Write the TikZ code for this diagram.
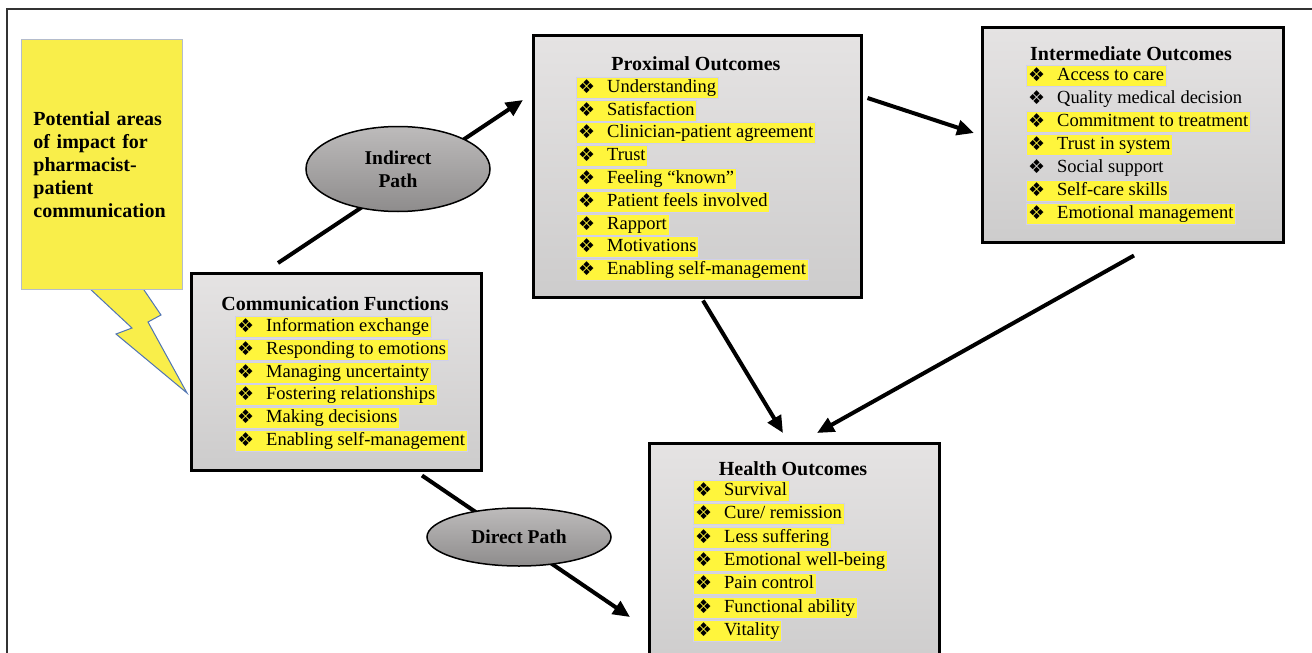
\documentclass[tikz,border=0pt]{standalone}
\usepackage{fontspec}
\setmainfont{Liberation Serif}
\newfontfamily\symfont{DejaVu Sans}
\usetikzlibrary{arrows.meta,shapes.geometric,shadings}
\definecolor{hl}{HTML}{FFF53C}
\definecolor{hlb}{HTML}{D0D0EC}
\definecolor{cy}{HTML}{F9EE4A}
\definecolor{cyb}{HTML}{4F74B5}
\definecolor{cyr}{HTML}{B4BCCC}
\definecolor{boxtop}{HTML}{E5E3E3}
\definecolor{boxbot}{HTML}{CDCCCC}
\definecolor{elltop}{HTML}{BDBBBB}
\definecolor{ellbot}{HTML}{8E8C8C}
\newcommand\mybul{{\symfont\fontsize{19}{19}\selectfont\raisebox{-0.5pt}{❖}}}
\newcommand\myitemfont{\fontsize{18.5}{23}\selectfont}
\newcommand\mytitlefont{\fontsize{20}{23}\selectfont\bfseries}
\newcommand\itm[1]{\makebox[29pt][l]{\mybul}#1}
\tikzset{
  panel/.style={draw=black, line width=2.5pt, top color=boxtop, bottom color=boxbot,
    anchor=north west, inner sep=0pt, rectangle},
  hlitem/.style={anchor=north west, fill=hl, draw=hlb, line width=0.4pt, inner xsep=2pt,
    inner ysep=0.5pt, text height=15pt, text depth=5pt, font=\myitemfont},
  plainitem/.style={hlitem, fill=none, draw=none},
  ptitle/.style={anchor=base, font=\mytitlefont, inner sep=0pt},
  pathell/.style={ellipse, draw=black, line width=1.5pt, top color=elltop, bottom color=ellbot,
    inner sep=0pt, align=center, font=\fontsize{19.5}{23}\selectfont\bfseries},
  arr/.style={line width=4pt, -{Triangle[length=17pt,width=15pt]}},
}
\begin{document}
\begin{tikzpicture}[x=1pt,y=-1pt]
\useasboundingbox (0,0) rectangle (1312,653);
\clip (0,0) rectangle (1312,653);
\fill[white] (0,0) rectangle (1312,653);
% outer frame (top and left edges visible)
\draw[line width=2pt, draw=black!80] (7,653) -- (7,9) -- (1312,9);

% callout pointer
\draw[fill=cy, draw=cyb, line width=1pt, line join=miter]
  (88,287) -- (132,328) -- (116,334) -- (187,393) -- (148,322) -- (161,315) -- (142,287);
\node[rectangle, fill=cy, draw=cyr, line width=0.8pt, anchor=north west,
  minimum width=161pt, minimum height=250pt, text width=137pt, inner xsep=12pt,
  align=left, font=\fontsize{20}{23}\selectfont\bfseries] (callout) at (21,39)
  {Potential areas\\of impact for\\pharmacist-\\patient\\communication};

% panels
\node[panel, minimum width=290pt, minimum height=197pt] (comm) at (190,272) {};
\node[panel, minimum width=328pt, minimum height=262pt] (prox) at (532,34) {};
\node[panel, minimum width=301pt, minimum height=215pt] (inter) at (981,26) {};
\node[panel, minimum width=290pt, minimum height=230pt] (health) at (648,442) {};

% titles
\node[ptitle] (commt) at (335,310) {Communication Functions};
\node[ptitle] (proxt) at (696,70) {Proximal Outcomes};
\node[ptitle] (intert) at (1131,60) {Intermediate Outcomes};
\node[ptitle] (healtht) at (793,475) {Health Outcomes};

% communication items
\node[hlitem] (c1) at (235,316) {\itm{Information exchange}};
\node[hlitem] (c2) at (235,339) {\itm{Responding to emotions}};
\node[hlitem] (c3) at (235,362) {\itm{Managing uncertainty}};
\node[hlitem] (c4) at (235,384) {\itm{Fostering relationships}};
\node[hlitem] (c5) at (235,407) {\itm{Making decisions}};
\node[hlitem] (c6) at (235,430) {\itm{Enabling self-management}};

% proximal items
\node[hlitem] (p1) at (576,77) {\itm{Understanding}};
\node[hlitem] (p2) at (576,100) {\itm{Satisfaction}};
\node[hlitem] (p3) at (576,122) {\itm{Clinician-patient agreement}};
\node[hlitem] (p4) at (576,145) {\itm{Trust}};
\node[hlitem] (p5) at (576,168) {\itm{Feeling “known”}};
\node[hlitem] (p6) at (576,191) {\itm{Patient feels involved}};
\node[hlitem] (p7) at (576,214) {\itm{Rapport}};
\node[hlitem] (p8) at (576,236) {\itm{Motivations}};
\node[hlitem] (p9) at (576,259) {\itm{Enabling self-management}};

% intermediate items
\node[hlitem] (i1) at (1026,65) {\itm{Access to care}};
\node[plainitem] (i2) at (1026,88) {\itm{Quality medical decision}};
\node[hlitem] (i3) at (1026,111) {\itm{Commitment to treatment}};
\node[hlitem] (i4) at (1026,134) {\itm{Trust in system}};
\node[plainitem] (i5) at (1026,157) {\itm{Social support}};
\node[hlitem] (i6) at (1026,180) {\itm{Self-care skills}};
\node[hlitem] (i7) at (1026,203) {\itm{Emotional management}};

% health items
\node[hlitem] (h1) at (693,480) {\itm{Survival}};
\node[hlitem] (h2) at (693,503) {\itm{Cure/ remission}};
\node[hlitem] (h3) at (693,527) {\itm{Less suffering}};
\node[hlitem] (h4) at (693,550) {\itm{Emotional well-being}};
\node[hlitem] (h5) at (693,573) {\itm{Pain control}};
\node[hlitem] (h6) at (693,597) {\itm{Functional ability}};
\node[hlitem] (h7) at (693,620) {\itm{Vitality}};

% connectors
\draw[arr] ([shift={(88,-9)}]comm.north west) -- ([shift={(-9,66)}]prox.north west);
\draw[arr] ([shift={(232,4)}]comm.south west) -- ([shift={(-18,175)}]health.north west);
\draw[arr] ([shift={(5,64)}]prox.north east) -- ([shift={(-7,107)}]inter.north west);
\draw[arr] ([shift={(171,2)}]prox.south west) -- ([shift={(135,-9)}]health.north west);
\draw[arr] ([shift={(153,12)}]inter.south west) -- ([shift={(169,-9)}]health.north west);

% path labels
\node[pathell, minimum width=184pt, minimum height=85pt] (indirect) at (398,169) {Indirect\\Path};
\node[pathell, minimum width=184pt, minimum height=58pt] (direct) at (519,537) {Direct Path};
\end{tikzpicture}
\end{document}
